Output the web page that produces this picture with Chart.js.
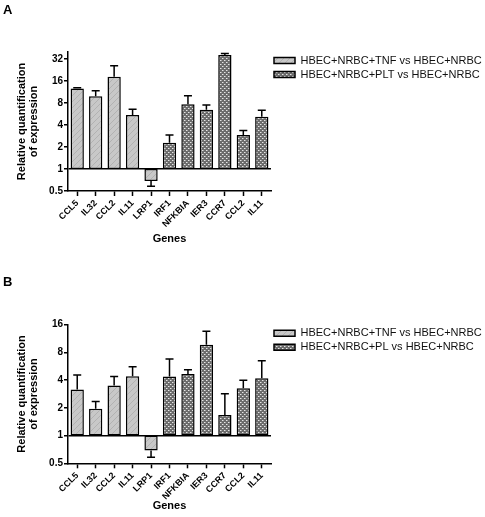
<!DOCTYPE html>
<html><head><meta charset="utf-8">
<script src="https://cdn.jsdelivr.net/npm/chart.js@4/dist/chart.umd.min.js"></script>
<style>
html,body{margin:0;padding:0;background:#fff;width:485px;height:517px;overflow:hidden}
canvas{position:absolute;left:0}
#cA{top:0}
#cB{top:258px}
</style></head><body>
<canvas id="cA" width="485" height="250"></canvas>
<canvas id="cB" width="485" height="259"></canvas>
<script>
const genes = ['CCL5','IL32','CCL2','IL11','LRP1','IRF1','NFKBIA','IER3','CCR7','CCL2','IL11'];

// Panel A
const tnfA    = [12.7, 9.9, 18.3, 5.5, 0.685, null, null, null, null, null, null];
const tnfAErr = [13.0, 11.8, 26.0, 6.6, 0.58, null, null, null, null, null, null];
const pltA    = [null, null, null, null, null, 2.29, 7.7, 6.5, 36.3, 2.92, 5.2];
const pltAErr = [null, null, null, null, null, 2.92, 10.1, 7.5, 38.3, 3.38, 6.4];
const yTicksA = [0.5, 1, 2, 4, 8, 16, 32];

// Panel B
const tnfB    = [3.16, 1.95, 3.49, 4.42, 0.69, null, null, null, null, null, null];
const tnfBErr = [4.56, 2.34, 4.38, 5.58, 0.58, null, null, null, null, null, null];
const plB     = [null, null, null, null, null, 4.38, 4.65, 9.7, 1.67, 3.27, 4.2];
const plBErr  = [null, null, null, null, null, 6.8, 5.2, 13.6, 2.84, 4.0, 6.5];
const yTicksB = [0.5, 1, 2, 4, 8, 16];

const FONT = "'Liberation Sans', Arial, Helvetica, sans-serif";

function hatchPattern() {
  const c = document.createElement('canvas'); c.width = 6; c.height = 6;
  const g = c.getContext('2d');
  g.fillStyle = '#c8c8c8'; g.fillRect(0, 0, 6, 6);
  g.strokeStyle = '#b2b2b2'; g.lineWidth = 1;
  g.beginPath(); g.moveTo(-1, 7); g.lineTo(7, -1); g.moveTo(-1, 1); g.lineTo(1, -1); g.moveTo(5, 7); g.lineTo(7, 5); g.stroke();
  return g.createPattern(c, 'repeat');
}
function dotPattern() {
  const c = document.createElement('canvas'); c.width = 4; c.height = 4;
  const g = c.getContext('2d');
  g.fillStyle = '#6c6c6c'; g.fillRect(0, 0, 4, 4);
  g.fillStyle = '#e6e6e6';
  g.fillRect(0, 0, 1, 1); g.fillRect(2, 2, 1, 1);
  g.fillStyle = '#a8a8a8';
  g.fillRect(1, 0, 1, 1); g.fillRect(3, 2, 1, 1);
  return g.createPattern(c, 'repeat');
}

const errorBars = {
  id: 'errorBars',
  afterDatasetsDraw(chart) {
    const ctx = chart.ctx, ys = chart.scales.y;
    chart.data.datasets.forEach((ds, di) => {
      const meta = chart.getDatasetMeta(di);
      ds.errors.forEach((e, i) => {
        if (e == null || ds.data[i] == null) return;
        const bar = meta.data[i];
        const y0 = ys.getPixelForValue(ds.data[i][1]);
        const y1 = ys.getPixelForValue(e);
        ctx.save();
        ctx.strokeStyle = '#000'; ctx.lineWidth = 1.5;
        ctx.beginPath();
        ctx.moveTo(bar.x, y0); ctx.lineTo(bar.x, y1);
        ctx.moveTo(bar.x - 4, y1); ctx.lineTo(bar.x + 4, y1);
        ctx.stroke();
        ctx.restore();
      });
    });
  }
};

function build(id, letter, lab1, lab2, s1, e1, s2, e2, yMax, yTicks, tPad, xHeight) {
  const toBars = arr => arr.map(v => v == null ? null : [1, v]);
  new Chart(document.getElementById(id), {
    type: 'bar',
    data: {
      labels: genes,
      datasets: [
        { label: lab1, data: toBars(s1), errors: e1, backgroundColor: hatchPattern(),
          borderColor: '#000', borderWidth: 1.5, borderSkipped: false, grouped: false,
          barPercentage: 0.72, categoryPercentage: 1 },
        { label: lab2, data: toBars(s2), errors: e2, backgroundColor: dotPattern(),
          borderColor: '#000', borderWidth: 1.5, borderSkipped: false, grouped: false,
          barPercentage: 0.72, categoryPercentage: 1 }
      ]
    },
    options: {
      responsive: false, animation: false,
      layout: { padding: { left: 3, right: 0, top: 0, bottom: 0 } },
      plugins: {
        tooltip: { enabled: false },
        title: { display: true, text: letter, align: 'start', color: '#000',
          font: { family: FONT, size: 13, weight: 'bold', lineHeight: 1.2 },
          padding: { top: tPad[0], bottom: tPad[1] } },
        legend: {
          position: 'right', align: 'start', fullSize: false, maxWidth: 214,
          labels: { boxWidth: 21, boxHeight: 6, padding: 3, color: '#111',
            font: { family: FONT, size: 11 } }
        }
      },
      scales: {
        x: {
          offset: true,
          grid: { display: true, drawOnChartArea: false, offset: false, tickLength: 5, tickColor: '#000', tickWidth: 1.5 },
          border: { display: true, color: '#000', width: 1.5 },
          ticks: { autoSkip: false, minRotation: 45, maxRotation: 45, padding: 2, color: '#000',
            font: { family: FONT, size: 9, weight: 'bold' } },
          title: { display: true, text: 'Genes', color: '#000',
            font: { family: FONT, size: 11, weight: 'bold', lineHeight: 1.2 }, padding: { top: 0, bottom: 4 } },
          afterFit: s => { s.height = xHeight; }
        },
        y: {
          type: 'logarithmic', min: 0.5, max: yMax,
          grid: { display: true, drawOnChartArea: true, tickLength: 4, tickColor: '#000', lineWidth: 1.5,
            color: c => (c.tick && c.tick.value === 1) ? '#000' : 'rgba(0,0,0,0)' },
          border: { display: true, color: '#000', width: 1.5 },
          afterBuildTicks: s => { s.ticks = yTicks.map(v => ({ value: v })); },
          ticks: { padding: 1, color: '#000', callback: v => String(v),
            font: { family: FONT, size: 10, weight: 'bold' } },
          title: { display: true, text: ['Relative quantification', 'of expression'], color: '#000',
            font: { family: FONT, size: 11, weight: 'bold', lineHeight: 1.1 }, padding: { top: 13, bottom: 0 } },
          afterFit: s => { s.width = 65; }
        }
      }
    },
    plugins: [errorBars]
  });
}

build('cA', 'A', 'HBEC+NRBC+TNF vs HBEC+NRBC', 'HBEC+NRBC+PLT vs HBEC+NRBC',
  tnfA, tnfAErr, pltA, pltAErr, 40, yTicksA, [2.7, 33.7], 59);
build('cB', 'B', 'HBEC+NRBC+TNF vs HBEC+NRBC', 'HBEC+NRBC+PL vs HBEC+NRBC',
  tnfB, tnfBErr, plB, plBErr, 16, yTicksB, [16.2, 34.9], 53.7);
</script>
</body></html>
